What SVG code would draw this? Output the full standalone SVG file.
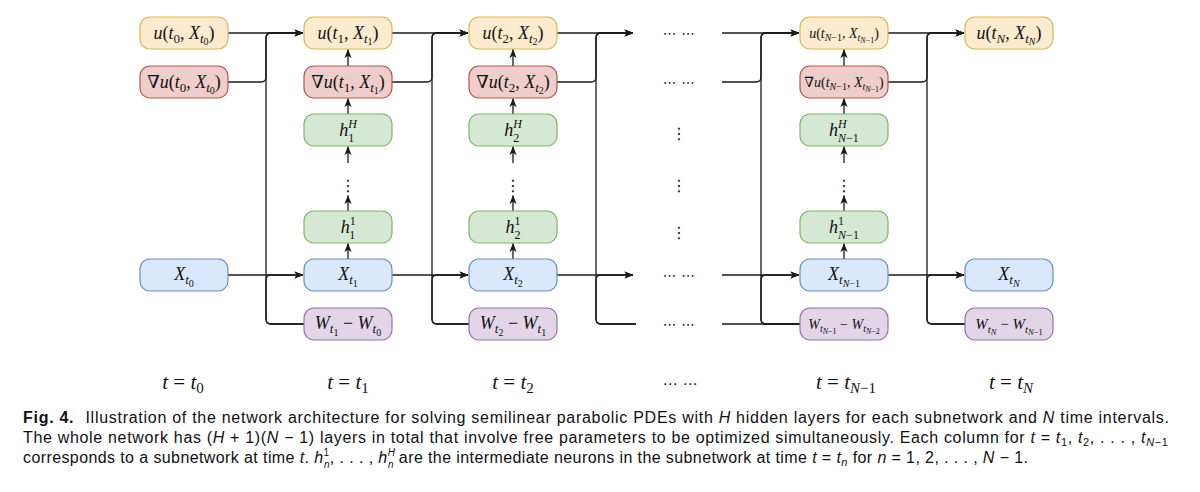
<svg xmlns="http://www.w3.org/2000/svg" width="1200" height="492" viewBox="0 0 1200 492">
<defs>
<style>
.bx{stroke-width:1.2}
.yu{fill:#fdebd0;stroke:#d6b656}
.rd{fill:#efcdcb;stroke:#b85450}
.gr{fill:#d5e8d4;stroke:#82b366}
.bl{fill:#dae8fc;stroke:#6c8ebf}
.pu{fill:#e1d5e7;stroke:#9673a6}
.ln{fill:none;stroke:#1a1a1a;stroke-width:1.3}
.ar{marker-end:url(#ah)}
.n{font-family:"Liberation Serif","DejaVu Serif",serif;text-anchor:middle;fill:#111}
.a{font-size:18px}.b{font-size:13px}.c{font-size:10px}.h{font-size:12px}
.s{font-size:14px}.sb{font-size:10px}.sc{font-size:8px}
.m{font-size:15px}.mb{font-size:11px}.mc{font-size:8.5px}
.i{font-style:italic}
.dt{font-family:"DejaVu Sans",sans-serif;text-anchor:middle;fill:#111}
.tl{font-family:"Liberation Serif","DejaVu Serif",serif;text-anchor:middle;fill:#111;font-size:21px}
.tb{font-size:15px}
.cap{font-family:"Liberation Sans",Arial,sans-serif;font-size:16px;fill:#111}
.cs{font-size:11px}.cx{font-size:10px}
</style>
<marker id="ah" viewBox="0 0 10 8" refX="9.5" refY="4" markerWidth="9" markerHeight="7.2" markerUnits="userSpaceOnUse" orient="auto"><path d="M0,0 L10,4 L0,8 L2.5,4 Z" fill="#1a1a1a"/></marker>
</defs>
<rect width="1200" height="492" fill="#fff"/>

<g id="connectors">
<path class="ln ar" d="M228,33 H303"/>
<path class="ln ar" d="M228,82 H261 Q266,82 266,77 V38 Q266,33 271,33 H303"/>
<path class="ln ar" d="M228,275 H303"/>
<path class="ln ar" d="M304,324 H271 Q266,324 266,319 V38 Q266,33 271,33 H303"/>
<path class="ln ar" d="M304,324 H271 Q266,324 266,319 V280 Q266,275 271,275 H303"/>

<path class="ln ar" d="M392,33 H468"/>
<path class="ln ar" d="M392,82 H427 Q432,82 432,77 V38 Q432,33 437,33 H468"/>
<path class="ln ar" d="M392,275 H468"/>
<path class="ln ar" d="M469,324 H437 Q432,324 432,319 V38 Q432,33 437,33 H468"/>
<path class="ln ar" d="M469,324 H437 Q432,324 432,319 V280 Q432,275 437,275 H468"/>

<path class="ln ar" d="M557,33 H633"/>
<path class="ln ar" d="M557,82 H591 Q596,82 596,77 V38 Q596,33 601,33 H633"/>
<path class="ln ar" d="M557,275 H633"/>
<path class="ln ar" d="M636,324 H601 Q596,324 596,319 V38 Q596,33 601,33 H633"/>
<path class="ln ar" d="M636,324 H601 Q596,324 596,319 V280 Q596,275 601,275 H633"/>

<path class="ln ar" d="M722,33 H799"/>
<path class="ln ar" d="M722,82 H756 Q761,82 761,77 V38 Q761,33 766,33 H799"/>
<path class="ln ar" d="M722,275 H799"/>
<path class="ln" d="M722,324 H800"/>
<path class="ln ar" d="M800,324 H766 Q761,324 761,319 V38 Q761,33 766,33 H799"/>
<path class="ln ar" d="M800,324 H766 Q761,324 761,319 V280 Q761,275 766,275 H799"/>

<path class="ln ar" d="M888,33 H964"/>
<path class="ln ar" d="M888,82 H922 Q927,82 927,77 V38 Q927,33 932,33 H964"/>
<path class="ln ar" d="M888,275 H964"/>
<path class="ln ar" d="M965,324 H932 Q927,324 927,319 V38 Q927,33 932,33 H964"/>
<path class="ln ar" d="M965,324 H932 Q927,324 927,319 V280 Q927,275 932,275 H964"/>

<path class="ln ar" d="M348,66 V49.5"/><path class="ln ar" d="M348,114 V98.5"/><path class="ln ar" d="M348,163 V146.5"/><path class="ln ar" d="M348,211 V195.5"/><path class="ln ar" d="M348,259 V243.5"/>
<path class="ln ar" d="M513,66 V49.5"/><path class="ln ar" d="M513,114 V98.5"/><path class="ln ar" d="M513,163 V146.5"/><path class="ln ar" d="M513,211 V195.5"/><path class="ln ar" d="M513,259 V243.5"/>
<path class="ln ar" d="M844,66 V49.5"/><path class="ln ar" d="M844,114 V98.5"/><path class="ln ar" d="M844,163 V146.5"/><path class="ln ar" d="M844,211 V195.5"/><path class="ln ar" d="M844,259 V243.5"/>
</g>

<!-- column t0 -->
<g id="u0"><rect class="bx yu" x="140" y="17" width="88" height="32" rx="10"/>
<text class="n a" x="184" y="38.5"><tspan class="i">u</tspan>(<tspan class="i">t</tspan><tspan class="b" dy="4">0</tspan><tspan dy="-4">, </tspan><tspan class="i">X</tspan><tspan class="b i" dy="4">t</tspan><tspan class="c" dy="2.5">0</tspan><tspan dy="-6.5">)</tspan></text></g>
<g id="gu0"><rect class="bx rd" x="140" y="66" width="88" height="32" rx="10"/>
<text class="n a" x="184" y="87.5">∇<tspan class="i">u</tspan>(<tspan class="i">t</tspan><tspan class="b" dy="4">0</tspan><tspan dy="-4">, </tspan><tspan class="i">X</tspan><tspan class="b i" dy="4">t</tspan><tspan class="c" dy="2.5">0</tspan><tspan dy="-6.5">)</tspan></text></g>
<g id="x0"><rect class="bx bl" x="140" y="259" width="88" height="32" rx="10"/>
<text class="n a" x="184" y="280"><tspan class="i">X</tspan><tspan class="b i" dy="4">t</tspan><tspan class="c" dy="2.5">0</tspan></text></g>

<!-- column t1 -->
<g id="u1"><rect class="bx yu" x="304" y="17" width="88" height="32" rx="10"/>
<text class="n a" x="348" y="38.5"><tspan class="i">u</tspan>(<tspan class="i">t</tspan><tspan class="b" dy="4">1</tspan><tspan dy="-4">, </tspan><tspan class="i">X</tspan><tspan class="b i" dy="4">t</tspan><tspan class="c" dy="2.5">1</tspan><tspan dy="-6.5">)</tspan></text></g>
<g id="gu1"><rect class="bx rd" x="304" y="66" width="88" height="32" rx="10"/>
<text class="n a" x="348" y="87.5">∇<tspan class="i">u</tspan>(<tspan class="i">t</tspan><tspan class="b" dy="4">1</tspan><tspan dy="-4">, </tspan><tspan class="i">X</tspan><tspan class="b i" dy="4">t</tspan><tspan class="c" dy="2.5">1</tspan><tspan dy="-6.5">)</tspan></text></g>
<g id="hH1"><rect class="bx gr" x="304" y="114" width="88" height="32" rx="10"/>
<text class="n a" x="348" y="136"><tspan class="i">h</tspan><tspan class="h i" dy="-8.5">H</tspan><tspan class="h" dx="-8.7" dy="14.5">1</tspan></text></g>
<text class="dt" x="348" y="191" font-size="16">⋮</text>
<g id="h11"><rect class="bx gr" x="304" y="211" width="88" height="32" rx="10"/>
<text class="n a" x="348" y="233"><tspan class="i">h</tspan><tspan class="h" dy="-8.5">1</tspan><tspan class="h" dx="-6" dy="14.5">1</tspan></text></g>
<g id="x1"><rect class="bx bl" x="304" y="259" width="88" height="32" rx="10"/>
<text class="n a" x="348" y="280"><tspan class="i">X</tspan><tspan class="b i" dy="4">t</tspan><tspan class="c" dy="2.5">1</tspan></text></g>
<g id="w1"><rect class="bx pu" x="304" y="308" width="88" height="32" rx="10"/>
<text class="n a" x="348" y="329"><tspan class="i">W</tspan><tspan class="b i" dy="4">t</tspan><tspan class="c" dy="2.5">1</tspan><tspan dy="-6.5"> − </tspan><tspan class="i">W</tspan><tspan class="b i" dy="4">t</tspan><tspan class="c" dy="2.5">0</tspan></text></g>

<!-- column t2 -->
<g id="u2"><rect class="bx yu" x="469" y="17" width="88" height="32" rx="10"/>
<text class="n a" x="513" y="38.5"><tspan class="i">u</tspan>(<tspan class="i">t</tspan><tspan class="b" dy="4">2</tspan><tspan dy="-4">, </tspan><tspan class="i">X</tspan><tspan class="b i" dy="4">t</tspan><tspan class="c" dy="2.5">2</tspan><tspan dy="-6.5">)</tspan></text></g>
<g id="gu2"><rect class="bx rd" x="469" y="66" width="88" height="32" rx="10"/>
<text class="n a" x="513" y="87.5">∇<tspan class="i">u</tspan>(<tspan class="i">t</tspan><tspan class="b" dy="4">2</tspan><tspan dy="-4">, </tspan><tspan class="i">X</tspan><tspan class="b i" dy="4">t</tspan><tspan class="c" dy="2.5">2</tspan><tspan dy="-6.5">)</tspan></text></g>
<g id="hH2"><rect class="bx gr" x="469" y="114" width="88" height="32" rx="10"/>
<text class="n a" x="513" y="136"><tspan class="i">h</tspan><tspan class="h i" dy="-8.5">H</tspan><tspan class="h" dx="-8.7" dy="14.5">2</tspan></text></g>
<text class="dt" x="513" y="191" font-size="16">⋮</text>
<g id="h12"><rect class="bx gr" x="469" y="211" width="88" height="32" rx="10"/>
<text class="n a" x="513" y="233"><tspan class="i">h</tspan><tspan class="h" dy="-8.5">1</tspan><tspan class="h" dx="-6" dy="14.5">2</tspan></text></g>
<g id="x2"><rect class="bx bl" x="469" y="259" width="88" height="32" rx="10"/>
<text class="n a" x="513" y="280"><tspan class="i">X</tspan><tspan class="b i" dy="4">t</tspan><tspan class="c" dy="2.5">2</tspan></text></g>
<g id="w2"><rect class="bx pu" x="469" y="308" width="88" height="32" rx="10"/>
<text class="n a" x="513" y="329"><tspan class="i">W</tspan><tspan class="b i" dy="4">t</tspan><tspan class="c" dy="2.5">2</tspan><tspan dy="-6.5"> − </tspan><tspan class="i">W</tspan><tspan class="b i" dy="4">t</tspan><tspan class="c" dy="2.5">1</tspan></text></g>

<!-- ellipsis column -->
<g id="dots">
<text class="dt" x="679" y="38" font-size="14">⋯ ⋯</text>
<text class="dt" x="679" y="87" font-size="14">⋯ ⋯</text>
<text class="dt" x="679" y="139" font-size="16">⋮</text>
<text class="dt" x="679" y="191" font-size="16">⋮</text>
<text class="dt" x="679" y="238" font-size="16">⋮</text>
<text class="dt" x="679" y="280" font-size="14">⋯ ⋯</text>
<text class="dt" x="679" y="329" font-size="14">⋯ ⋯</text>
</g>

<!-- column tN-1 -->
<g id="uN1"><rect class="bx yu" x="800" y="17" width="88" height="32" rx="10"/>
<text class="n s" x="844" y="37.5"><tspan class="i">u</tspan>(<tspan class="i">t</tspan><tspan class="sb" dy="3"><tspan class="i">N</tspan>−1</tspan><tspan dy="-3">, </tspan><tspan class="i">X</tspan><tspan class="sb i" dy="3">t</tspan><tspan class="sc" dy="2"><tspan class="i">N</tspan>−1</tspan><tspan dy="-5">)</tspan></text></g>
<g id="guN1"><rect class="bx rd" x="800" y="66" width="88" height="32" rx="10"/>
<text class="n s" x="844" y="86.5">∇<tspan class="i">u</tspan>(<tspan class="i">t</tspan><tspan class="sb" dy="3"><tspan class="i">N</tspan>−1</tspan><tspan dy="-3">, </tspan><tspan class="i">X</tspan><tspan class="sb i" dy="3">t</tspan><tspan class="sc" dy="2"><tspan class="i">N</tspan>−1</tspan><tspan dy="-5">)</tspan></text></g>
<g id="hHN1"><rect class="bx gr" x="800" y="114" width="88" height="32" rx="10"/>
<text class="n a" x="844" y="136"><tspan class="i">h</tspan><tspan class="h i" dy="-8.5">H</tspan><tspan class="h" dx="-8.7" dy="14.5"><tspan class="i">N</tspan>−1</tspan></text></g>
<text class="dt" x="844" y="191" font-size="16">⋮</text>
<g id="h1N1"><rect class="bx gr" x="800" y="211" width="88" height="32" rx="10"/>
<text class="n a" x="844" y="233"><tspan class="i">h</tspan><tspan class="h" dy="-8.5">1</tspan><tspan class="h" dx="-6" dy="14.5"><tspan class="i">N</tspan>−1</tspan></text></g>
<g id="xN1"><rect class="bx bl" x="800" y="259" width="88" height="32" rx="10"/>
<text class="n a" x="844" y="280"><tspan class="i">X</tspan><tspan class="b i" dy="4">t</tspan><tspan class="c" dy="2.5"><tspan class="i">N</tspan>−1</tspan></text></g>
<g id="wN1"><rect class="bx pu" x="800" y="308" width="88" height="32" rx="10"/>
<text class="n s" x="844" y="328.5"><tspan class="i">W</tspan><tspan class="sb i" dy="3">t</tspan><tspan class="sc" dy="2"><tspan class="i">N</tspan>−1</tspan><tspan dy="-5"> − </tspan><tspan class="i">W</tspan><tspan class="sb i" dy="3">t</tspan><tspan class="sc" dy="2"><tspan class="i">N</tspan>−2</tspan></text></g>

<!-- column tN -->
<g id="uN"><rect class="bx yu" x="965" y="17" width="88" height="32" rx="10"/>
<text class="n a" x="1009" y="38.5"><tspan class="i">u</tspan>(<tspan class="i">t</tspan><tspan class="b i" dy="4">N</tspan><tspan dy="-4">, </tspan><tspan class="i">X</tspan><tspan class="b i" dy="4">t</tspan><tspan class="c i" dy="2.5">N</tspan><tspan dy="-6.5">)</tspan></text></g>
<g id="xN"><rect class="bx bl" x="965" y="259" width="88" height="32" rx="10"/>
<text class="n a" x="1009" y="280"><tspan class="i">X</tspan><tspan class="b i" dy="4">t</tspan><tspan class="c i" dy="2.5">N</tspan></text></g>
<g id="wN"><rect class="bx pu" x="965" y="308" width="88" height="32" rx="10"/>
<text class="n m" x="1009" y="329"><tspan class="i">W</tspan><tspan class="mb i" dy="3.5">t</tspan><tspan class="mc i" dy="2">N</tspan><tspan dy="-5.5"> − </tspan><tspan class="i">W</tspan><tspan class="mb i" dy="3.5">t</tspan><tspan class="mc" dy="2"><tspan class="i">N</tspan>−1</tspan></text></g>

<!-- time labels -->
<g id="time-labels">
<text class="tl" x="183" y="389"><tspan class="i">t</tspan> = <tspan class="i">t</tspan><tspan class="tb" dy="4">0</tspan></text>
<text class="tl" x="348" y="389"><tspan class="i">t</tspan> = <tspan class="i">t</tspan><tspan class="tb" dy="4">1</tspan></text>
<text class="tl" x="513" y="389"><tspan class="i">t</tspan> = <tspan class="i">t</tspan><tspan class="tb" dy="4">2</tspan></text>
<text class="dt" x="680" y="389" font-size="15">⋯ ⋯</text>
<text class="tl" x="846" y="389"><tspan class="i">t</tspan> = <tspan class="i">t</tspan><tspan class="tb" dy="4"><tspan class="i">N</tspan>−1</tspan></text>
<text class="tl" x="1011" y="389"><tspan class="i">t</tspan> = <tspan class="i">t</tspan><tspan class="tb i" dy="4">N</tspan></text>
</g>

<!-- caption -->
<g id="caption">
<text class="cap" x="23" y="423" textLength="1146" lengthAdjust="spacing"><tspan font-weight="bold">Fig. 4.</tspan><tspan dx="6"> Illustration of the network architecture for solving semilinear parabolic PDEs with </tspan><tspan class="i">H</tspan> hidden layers for each subnetwork and <tspan class="i">N</tspan> time intervals.</text>
<text class="cap" x="23" y="443" textLength="1145" lengthAdjust="spacing">The whole network has (<tspan class="i">H</tspan> + 1)(<tspan class="i">N</tspan> − 1) layers in total that involve free parameters to be optimized simultaneously. Each column for <tspan class="i">t</tspan> = <tspan class="i">t</tspan><tspan class="cs" dy="3">1</tspan><tspan dy="-3">, </tspan><tspan class="i">t</tspan><tspan class="cs" dy="3">2</tspan><tspan dy="-3">, . . . , </tspan><tspan class="i">t</tspan><tspan class="cs" dy="3"><tspan class="i">N</tspan>−1</tspan></text>
<text class="cap" x="23" y="463" textLength="1005" lengthAdjust="spacing">corresponds to a subnetwork at time <tspan class="i">t</tspan>. <tspan class="i">h</tspan><tspan class="cx" dy="-7">1</tspan><tspan class="cx i" dx="-5.6" dy="11.5">n</tspan><tspan dy="-4.5">, . . . , </tspan><tspan class="i">h</tspan><tspan class="cx i" dy="-7">H</tspan><tspan class="cx i" dx="-7.2" dy="11.5">n</tspan><tspan dy="-4.5"> are the intermediate neurons in the subnetwork at time </tspan><tspan class="i">t</tspan> = <tspan class="i">t</tspan><tspan class="cs i" dy="3">n</tspan><tspan dy="-3"> for </tspan><tspan class="i">n</tspan> = 1, 2, . . . , <tspan class="i">N</tspan> − 1.</text>
</g>
</svg>
